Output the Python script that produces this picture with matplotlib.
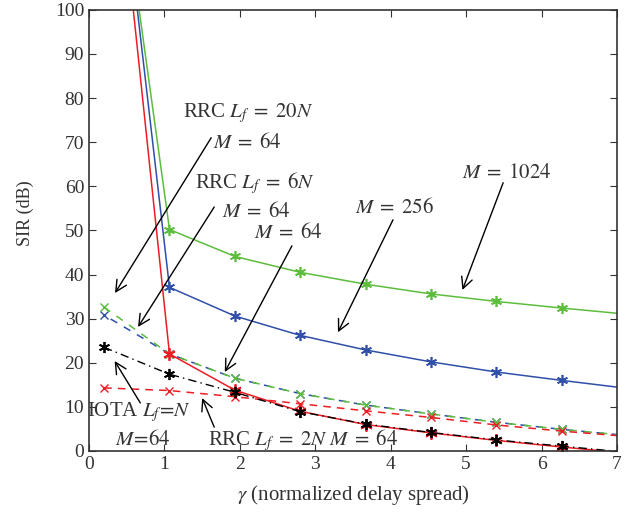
import matplotlib
matplotlib.use('Agg')
import matplotlib.pyplot as plt
import numpy as np

plt.rcParams['font.family'] = ['Liberation Serif', 'DejaVu Serif']
plt.rcParams['mathtext.fontset'] = 'stix'

# punkty pomiarowe (gamma)
gamma = [0.2, 1.067, 1.933, 2.8, 3.667, 4.533, 5.4, 6.267, 7.133]

# linie ciagle (*)
sir_1024 = [157.5, 50.2, 44.1, 40.5, 37.8, 35.6, 33.9, 32.4, 31.0]
sir_256 = [165.0, 37.1, 30.6, 26.2, 22.9, 20.2, 17.9, 16.0, 14.2]
sir_64 = [163.0, 22.0, 13.8, 9.0, 6.0, 4.1, 2.4, 0.9, -0.5]

# linie przerywane (x)
rrc20 = [32.6, 22.0, 16.5, 13.0, 10.4, 8.4, 6.5, 4.9, 3.5]
rrc6 = [30.8, 22.0, 16.5, 13.0, 10.4, 8.4, 6.5, 4.9, 3.5]
rrc2 = [14.3, 13.7, 12.3, 10.7, 9.1, 7.6, 5.9, 4.5, 3.3]

# IOTA (kreska-kropka)
iota = [23.5, 17.4, 13.3, 8.9, 6.1, 4.2, 2.5, 1.1, -0.3]

green = '#5cbd3c'
blue = '#2f4fa8'
red = '#ee1c24'
ast = (6, 2, 0)  # gwiazdka jak w matlabie

fig = plt.figure(figsize=(6.37, 5.16), dpi=100)
ax = fig.add_axes([0.1397, 0.126, 0.829, 0.855])

ax.plot(gamma, sir_1024, '-', color=green, marker=ast, ms=8, mew=1.2, lw=1.1)
ax.plot(gamma, sir_256, '-', color=blue, marker=ast, ms=8, mew=1.2, lw=1.1)
ax.plot(gamma, rrc6, color=blue, ls=(5, (5, 5)), marker='x', ms=6, lw=1.1)
ax.plot(gamma, rrc20, color=green, ls=(0, (5, 5)), marker='x', ms=6, lw=1.1)
ax.plot(gamma, rrc2, color=red, ls=(0, (5, 4)), marker='x', ms=6, lw=1.1)
ax.plot(gamma, sir_64, '-', color=red, marker=ast, ms=9, mew=1.3, lw=1.1)
ax.plot(gamma, iota, color='black', ls=(0, (6, 3, 1, 3)), marker=ast, ms=8, mew=1.3, lw=1.0)

ax.set_xlim(0, 7)
ax.set_ylim(0, 100)
ax.set_xticks(range(0, 8))
ax.set_yticks(range(0, 101, 10))
ax.tick_params(direction='in', top=True, right=True, labelsize=14, colors='#333333', length=5)
for s in ax.spines.values():
    s.set_color('#333333')
    s.set_linewidth(1.2)

tc = '#333333'
fig.text(353 / 637, 1 - 495 / 516, r'$\gamma$ (normalized delay spread)', fontsize=15,
         color=tc, ha='center', va='center')
fig.text(25 / 637, 1 - 213 / 516, 'SIR (dB)', fontsize=13, color=tc, rotation=90,
         ha='center', va='center')

fs = 15
# podpisy
ax.text(1.246, 76.6, r'RRC $L_f\; =\; 20N$', fontsize=fs, color=tc, va='center')
ax.text(1.644, 69.8, r'$M\; =\; 64$', fontsize=fs, color=tc, va='center')
ax.text(1.405, 60.8, r'RRC $L_f\; =\; 6N$', fontsize=fs, color=tc, va='center')
ax.text(1.763, 54.2, r'$M\; =\; 64$', fontsize=fs, color=tc, va='center')
ax.text(2.187, 49.4, r'$M\; =\; 64$', fontsize=fs, color=tc, va='center')
ax.text(3.526, 55.1, r'$M\; =\; 256$', fontsize=fs, color=tc, va='center')
ax.text(4.945, 63.0, r'$M\; =\; 1024$', fontsize=fs, color=tc, va='center')
ax.text(-0.03, 8.8, r'IOTA $L_f\!=\!N$', fontsize=fs, color=tc, va='center')
ax.text(0.345, 2.5, r'$M\!=\!64$', fontsize=fs, color=tc, va='center')
ax.text(1.578, 2.5, r'RRC $L_f\; =\; 2N\ M\; =\; 64$', fontsize=fs, color=tc, va='center')

# strzalki: (poczatek, koniec)
arrows = [((1.62, 71.0), (0.345, 35.8)),
          ((1.66, 55.3), (0.65, 28.1)),
          ((2.69, 46.5), (1.80, 17.9)),
          ((4.03, 52.4), (3.30, 26.9)),
          ((5.49, 60.8), (4.95, 36.5)),
          ((0.68, 10.9), (0.34, 20.4)),
          ((1.66, 5.4), (1.50, 12.0))]
for a, b in arrows:
    ax.annotate('', xy=b, xytext=a,
                arrowprops=dict(arrowstyle='->', color='black', lw=1.0, mutation_scale=20,
                                shrinkA=0, shrinkB=0))

fig.savefig('out.png', dpi=100)
